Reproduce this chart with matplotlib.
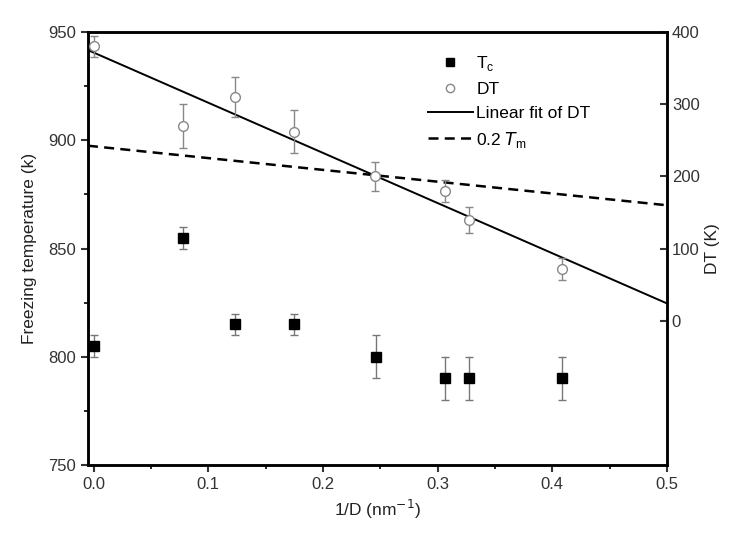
import numpy as np
import matplotlib
matplotlib.use('Agg')
import matplotlib.pyplot as plt
from matplotlib.ticker import MultipleLocator
from matplotlib.lines import Line2D

plt.rcParams['font.family'] = ['Liberation Sans', 'DejaVu Sans']

# freezing temperature Tc (left axis)
tc_x = [0.0, 0.078, 0.123, 0.175, 0.246, 0.306, 0.327, 0.408]
tc_y = [805, 855, 815, 815, 800, 790, 790, 790]
tc_err = [5, 5, 5, 5, 10, 10, 10, 10]

# DT (right axis)
dt_x = [0.0, 0.078, 0.123, 0.175, 0.245, 0.306, 0.327, 0.408]
dt_y = [380, 270, 310, 262, 200, 180, 140, 72]
dt_err = [15, 30, 28, 30, 20, 15, 18, 15]

# linear fit of DT (right axis) and 0.2 Tm (left axis)
fit_x = [-0.005, 0.5]
fit_y = [375, 24]
tm_x = [-0.005, 0.5]
tm_y = [897.5, 870]

fig = plt.figure(figsize=(7.35, 5.34), dpi=100)
ax = fig.add_axes([0.1197, 0.129, 0.7878, 0.811])
ax2 = ax.twinx()

ax.errorbar(tc_x, tc_y, yerr=tc_err, fmt='s', color='black', markersize=7,
            ecolor='#777777', elinewidth=1, capsize=3, zorder=3)
ax2.errorbar(dt_x, dt_y, yerr=dt_err, fmt='o', markerfacecolor='white', markeredgecolor='#888888',
             markersize=7, ecolor='#888888', elinewidth=1, capsize=3, zorder=3)
ax2.plot(fit_x, fit_y, '-', color='black', lw=1.4)
ax.plot(tm_x, tm_y, '--', color='black', lw=1.8, dashes=(4, 2.5))

ax.set_xlim(-0.005, 0.5)
ax.set_ylim(750, 950)
ax2.set_ylim(-200, 400)

ax.xaxis.set_major_locator(MultipleLocator(0.1))
ax.xaxis.set_minor_locator(MultipleLocator(0.05))
ax.yaxis.set_major_locator(MultipleLocator(50))
ax.yaxis.set_minor_locator(MultipleLocator(25))
ax2.set_yticks([0, 100, 200, 300, 400])

ax.tick_params(axis='both', which='major', direction='out', length=5, width=1.5, labelsize=12, colors='#333333')
ax.tick_params(axis='both', which='minor', direction='out', length=3, width=1.2)
ax2.tick_params(axis='y', direction='in', length=5, width=1.5, labelsize=12, colors='#333333')

for a in (ax, ax2):
    for s in a.spines.values():
        s.set_linewidth(1.8)

ax.set_xlabel('1/D (nm$^{-1}$)', fontsize=12.5, color='#222222')
ax.set_ylabel('Freezing temperature (k)', fontsize=12.5, color='#222222', labelpad=8)
ax2.set_ylabel('DT (K)', fontsize=12.5, color='#222222')

handles = [
    Line2D([], [], ls='none', marker='s', color='black', markersize=6),
    Line2D([], [], ls='none', marker='o', markerfacecolor='white', markeredgecolor='#888888', markersize=6),
    Line2D([], [], ls='-', color='black', lw=1.4),
    Line2D([], [], ls='--', color='black', lw=1.8, dashes=(4, 2.5)),
]
labels = ['T$_\\mathregular{c}$', 'DT', 'Linear fit of DT', '0.2 $T_\\mathregular{m}$']
ax2.legend(handles, labels, loc='upper left', bbox_to_anchor=(0.56, 0.985), frameon=False,
           fontsize=12.5, handlelength=2.6, handletextpad=0.2, labelspacing=0.5)

fig.savefig('out.png', dpi=100)
